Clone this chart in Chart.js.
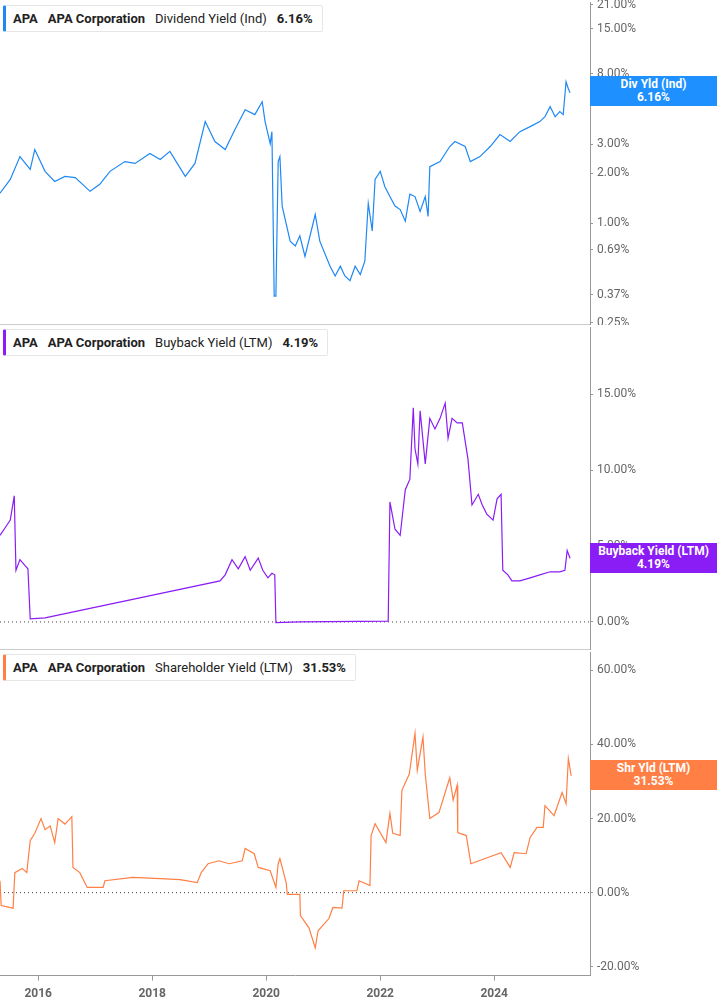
<!DOCTYPE html>
<html><head><meta charset="utf-8">
<script src="https://cdn.jsdelivr.net/npm/chart.js@4.4.1/dist/chart.umd.min.js"></script>
<style>
body{margin:0;background:#fff;font-family:Roboto,"Noto Sans",sans-serif;width:717px;height:1005px;overflow:hidden;position:relative}
.wrap{position:absolute;left:0;width:717px;overflow:hidden}
canvas{position:absolute;left:0}
.leg{position:absolute;left:3px;height:25px;background:#fff;border:1px solid #e6e6e6;border-left:3px solid;border-radius:2px;font-size:13px;line-height:25px;padding:0 9px 0 7px;color:#222;white-space:nowrap}
.leg b{font-weight:700}
.leg span{margin-right:10px}
.badge{position:absolute;left:590px;width:127px;height:30px;color:#fff;font-weight:700;font-size:12px;line-height:13px;text-align:center;padding-top:2px;box-sizing:border-box}
.sep{position:absolute;left:0;width:590px;height:1px;background:#ccc}
</style></head><body>
<div class="wrap" style="top:0;height:325px"><canvas id="c1" width="717" height="346" style="top:-9px"></canvas></div>
<div class="wrap" style="top:325px;height:325px"><canvas id="c2" width="717" height="346" style="top:-9px"></canvas></div>
<div class="wrap" style="top:650px;height:355px"><canvas id="c3" width="717" height="366" style="top:-9px"></canvas></div>
<div class="sep" style="top:324px"></div>
<div class="sep" style="top:649px"></div>
<div class="leg" style="top:5px;border-left-color:#1e88f5"><span><b>APA</b></span><span><b>APA Corporation</b></span><span>Dividend Yield (Ind)</span><b>6.16%</b></div>
<div class="leg" style="top:329px;border-left-color:#8a1cf5"><span><b>APA</b></span><span><b>APA Corporation</b></span><span>Buyback Yield (LTM)</span><b>4.19%</b></div>
<div class="leg" style="top:654px;border-left-color:#ff7f45"><span><b>APA</b></span><span><b>APA Corporation</b></span><span>Shareholder Yield (LTM)</span><b>31.53%</b></div>
<div class="badge" style="top:76px;background:#1e90ff">Div Yld (Ind)<br>6.16%</div>
<div class="badge" style="top:543px;background:#8a1cf5">Buyback Yield (LTM)<br>4.19%</div>
<div class="badge" style="top:760px;background:#ff7f45">Shr Yld (LTM)<br>31.53%</div>
<script>
const divDates=[2015.33,2015.51,2015.68,2015.86,2015.94,2016.12,2016.29,2016.47,2016.65,2016.91,2017.08,2017.26,2017.52,2017.70,2017.96,2018.14,2018.31,2018.58,2018.75,2018.93,2019.10,2019.28,2019.45,2019.63,2019.80,2019.93,2019.98,2020.07,2020.10,2020.14,2020.17,2020.21,2020.24,2020.28,2020.42,2020.51,2020.59,2020.68,2020.86,2020.94,2021.12,2021.21,2021.30,2021.38,2021.47,2021.56,2021.65,2021.73,2021.79,2021.86,2021.91,2022.00,2022.08,2022.17,2022.26,2022.35,2022.44,2022.52,2022.61,2022.70,2022.79,2022.84,2022.87,2023.05,2023.22,2023.31,2023.49,2023.58,2023.75,2023.93,2024.10,2024.28,2024.45,2024.63,2024.80,2024.89,2024.98,2025.07,2025.15,2025.21,2025.26,2025.30,2025.33];
const divValues=[1.52,1.84,2.53,2.12,2.79,2.06,1.79,1.92,1.89,1.56,1.72,2.06,2.36,2.30,2.64,2.43,2.72,1.92,2.30,4.12,3.12,2.79,3.68,4.86,4.54,5.43,4.12,3.03,3.58,0.363,0.363,2.36,2.53,1.27,0.78,0.73,0.84,0.63,1.13,0.78,0.55,0.48,0.55,0.48,0.45,0.55,0.49,0.59,1.32,0.90,1.84,2.06,1.67,1.45,1.27,1.21,1.03,1.50,1.45,1.18,1.45,1.10,2.20,2.36,2.91,3.12,2.91,2.36,2.53,2.91,3.44,3.12,3.58,3.84,4.12,4.41,5.07,4.41,4.73,4.54,7.17,6.50,6.16];
const bbDates=[2015.33,2015.42,2015.51,2015.58,2015.61,2015.68,2015.77,2015.82,2015.86,2016.12,2019.19,2019.28,2019.40,2019.51,2019.63,2019.72,2019.86,2019.94,2020.03,2020.10,2020.15,2020.17,2020.59,2022.14,2022.17,2022.26,2022.35,2022.44,2022.52,2022.58,2022.61,2022.66,2022.70,2022.79,2022.87,2022.96,2023.05,2023.14,2023.19,2023.26,2023.35,2023.44,2023.54,2023.61,2023.72,2023.79,2023.87,2023.98,2024.05,2024.12,2024.15,2024.24,2024.31,2024.45,2024.63,2024.80,2024.98,2025.15,2025.24,2025.28,2025.33];
const bbValues=[5.7,6.2,6.7,8.3,3.4,4.1,3.7,3.5,0.2,0.27,2.7,3.1,4.1,3.5,4.3,3.4,4.2,3.4,2.9,3.2,3.1,-0.05,0,0.05,7.9,6.1,5.7,8.7,9.4,14.1,11.4,10.4,13.9,10.4,13.4,12.7,13.4,14.4,12.1,13.4,13.1,13.1,10.7,7.7,8.4,7.7,7.1,6.7,8.1,8.4,3.4,3.1,2.7,2.7,2.9,3.1,3.3,3.3,3.4,4.7,4.19];
const shDates=[2015.33,2015.35,2015.56,2015.59,2015.72,2015.80,2015.86,2015.94,2016.05,2016.12,2016.21,2016.29,2016.35,2016.47,2016.59,2016.61,2016.73,2016.86,2017.14,2017.17,2017.66,2018.14,2018.49,2018.79,2018.86,2018.98,2019.17,2019.35,2019.58,2019.63,2019.79,2019.86,2020.07,2020.17,2020.21,2020.24,2020.35,2020.37,2020.59,2020.60,2020.75,2020.86,2020.91,2021.10,2021.17,2021.33,2021.36,2021.59,2021.63,2021.82,2021.84,2021.91,2022.10,2022.17,2022.22,2022.35,2022.38,2022.51,2022.61,2022.65,2022.75,2022.79,2022.87,2023.03,2023.22,2023.28,2023.35,2023.36,2023.51,2023.59,2023.84,2024.12,2024.28,2024.35,2024.56,2024.63,2024.75,2024.86,2024.89,2025.05,2025.19,2025.26,2025.30,2025.35];
const shValues=[3.2,-3.5,-4.2,5.4,6.5,5.4,14,16,20,17,18,13.5,20,18.5,20.5,6.8,5.4,1.4,1.4,3.2,4.1,3.8,3.5,2.7,5.4,7.8,8.6,7.8,8.6,11.9,10.5,6.8,5.9,1.4,7.8,9.2,2.7,-0.5,-0.5,-6.2,-9.5,-14.9,-10.3,-7,-4,-4.2,0.5,0.5,3.2,1.9,15.4,18.6,13.5,21.4,16,15.4,27.6,32,43,33,42,32,20,21.6,31,25,29,16.2,15.4,7.8,9.2,10.8,6.8,10.8,10.5,14.9,17.6,17.6,23.5,20.8,27,24,36.2,31.53];
const divTicks=[0.25,0.37,0.69,1,2,3,6,8,15,21];
const bbTicks=[0,5,10,15];
const shTicks=[-20,0,20,40,60];
const yearTicks=[2016,2018,2020,2022,2024];
const X0=2015.33,X1=2025.68;

const pts=(d,v)=>d.map((x,i)=>({x,y:v[i]}));
function make(id,dates,vals,color,ytype,ymin,ymax,ticks,showX,zero){
  const ds=[{data:pts(dates,vals),borderColor:color,borderWidth:1.2,pointRadius:0,tension:0}];
  if(zero) ds.push({data:[{x:X0,y:0},{x:X1,y:0}],borderColor:'#444',borderWidth:1,borderDash:[1,3],pointRadius:0});
  return new Chart(document.getElementById(id),{type:'line',data:{datasets:ds},
   options:{responsive:false,animation:false,devicePixelRatio:1,
    layout:{padding:0},
    plugins:{legend:{display:false},tooltip:{enabled:false}},
    scales:{
     x:{type:'linear',min:X0,max:X1,display:showX,
        afterBuildTicks:s=>{s.ticks=yearTicks.map(v=>({value:v}))},
        ticks:{callback:v=>String(v),color:'#666',font:{family:'Roboto',size:12,weight:'bold'},padding:6,maxRotation:0},
        grid:{drawOnChartArea:false,drawTicks:true,tickLength:5,color:'#999'},
        border:{display:true,color:'#999'}},
     y:{type:ytype,position:'right',min:ymin,max:ymax,
        afterBuildTicks:s=>{s.ticks=ticks.map(v=>({value:v}))},
        afterFit:s=>{s.width=127},
        ticks:{callback:v=>v.toFixed(2)+'%',color:'#666',font:{family:'Roboto',size:12},padding:4,autoSkip:false},
        grid:{drawOnChartArea:false,drawTicks:true,tickLength:3,color:'#999'},
        border:{display:true,color:'#999'}}
    }}});
}
make('c1',divDates,divValues,'#1e88f5','logarithmic',0.24,21.7,divTicks,false,false);
make('c2',bbDates,bbValues,'#8a1cf5','linear',-1.9,19.4,bbTicks,false,true);
make('c3',shDates,shValues,'#ff7f45','linear',-22.4,64.9,shTicks,true,true);
</script></body></html>
